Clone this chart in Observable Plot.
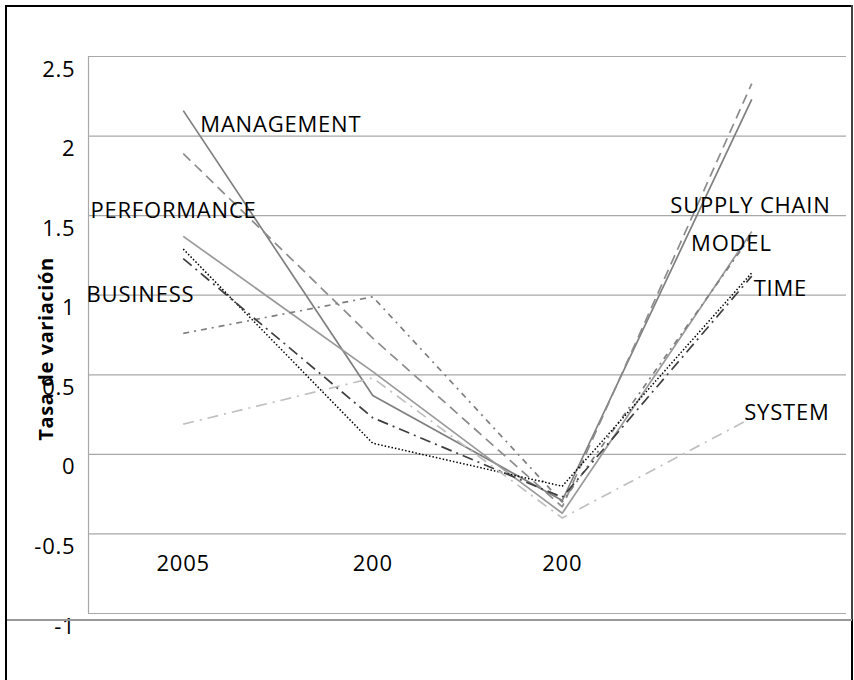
<!DOCTYPE html>
<html>
<head>
<meta charset="utf-8">
<script src="https://cdn.jsdelivr.net/npm/d3@7"></script>
<script src="https://cdn.jsdelivr.net/npm/@observablehq/plot@0.6"></script>
<style>
  html, body { margin: 0; padding: 0; background: #fff; }
  #wrap { position: relative; width: 854px; height: 680px; overflow: hidden; font-family: "Open Sans", sans-serif; }
  #wrap svg text { letter-spacing: 0.8px; }
  .edge { position: absolute; background: #000; }
  #ytitle { position: absolute; left: 45px; top: 349px; transform: translate(-50%, -50%) rotate(-90deg);
            font: bold 20px "Open Sans", sans-serif; letter-spacing: 0.6px; white-space: nowrap; color: #000; }
</style>
</head>
<body>
<div id="wrap"></div>
<script>
// ---- data ----
const years = [2005, 2006, 2007, 2008];
const xTickLabels = ["2005", "200", "200", ""];
const yTicks = [-1, -0.5, 0, 0.5, 1, 1.5, 2, 2.5];
const yTickLabels = ["-1", "-0.5", "0", "0.5", "1", "1.5", "2", "2.5"];

const seriesNames = ["MANAGEMENT", "PERFORMANCE", "SUPPLY CHAIN", "MODEL", "TIME", "BUSINESS", "SYSTEM"];
const management  = [2.16, 0.37, -0.29, 2.23];
const performance = [1.89, 0.73, -0.33, 2.33];
const supplyChain = [1.37, 0.52, -0.37, 1.40];
const model       = [0.76, 0.99, -0.30, 1.38];
const time        = [1.29, 0.07, -0.20, 1.14];
const business    = [1.23, 0.23, -0.27, 1.12];
const system      = [0.19, 0.48, -0.40, 0.23];
const seriesValues = [management, performance, supplyChain, model, time, business, system];

// styles per series
const seriesStroke = ["#7f7f7f", "#8c8c8c", "#999999", "#7f7f7f", "#000000", "#3f3f3f", "#c0c0c0"];
const seriesDash   = [null, "10,6", null, "6,5,2,5", "1.5,2", "11,5,2,5", "11,6,2,6"];
const seriesWidth  = [1.7, 1.7, 1.7, 1.7, 1.5, 1.7, 1.7];

// data labels (name, anchor year, anchor value)
const labelText = ["MANAGEMENT", "PERFORMANCE", "BUSINESS", "SUPPLY CHAIN", "MODEL", "TIME", "SYSTEM"];
const labelYear = [2005.09, 2004.51, 2004.49, 2007.57, 2007.68, 2008.01, 2007.96];
const labelValue = [2.07, 1.53, 1.0, 1.56, 1.32, 1.04, 0.26];

const xDomain = [2004.5, 2008.5];
const yDomain = [-1, 2.5];

// ---- build ----
const table = [];
seriesNames.forEach((s, i) => years.forEach((y, j) => table.push({series: s, year: y, value: seriesValues[i][j], idx: i})));
const labels = labelText.map((t, i) => ({text: t, year: labelYear[i], value: labelValue[i]}));

const lineMarks = seriesNames.map((s, i) =>
  Plot.line(table.filter(d => d.idx === i), {
    x: "year", y: "value", stroke: seriesStroke[i], strokeWidth: seriesWidth[i],
    strokeDasharray: seriesDash[i] || undefined, strokeLinejoin: "miter", strokeLinecap: "butt"
  })
);

const chart = Plot.plot({
  width: 854, height: 680,
  marginLeft: 88, marginTop: 56, marginRight: 8, marginBottom: 67,
  style: {fontFamily: "'Open Sans', sans-serif", background: "transparent", overflow: "visible"},
  x: {domain: xDomain, axis: null},
  y: {domain: yDomain, axis: null},
  marks: [
    Plot.gridY(yTicks, {stroke: "#a8a8a8", strokeOpacity: 1, strokeWidth: 1.2}),
    Plot.ruleX([xDomain[0]], {stroke: "#a8a8a8", strokeWidth: 1.2}),
    Plot.axisY(yTicks, {tickSize: 0, tickPadding: 13, dy: 13, fontSize: 22, fill: "#000",
      tickFormat: d => yTickLabels[yTicks.indexOf(d)], label: null}),
    Plot.axisX(years, {tickSize: 0, tickPadding: 0, dy: -58, fontSize: 22, fill: "#000",
      tickFormat: d => xTickLabels[years.indexOf(d)], label: null}),
    ...lineMarks,
    Plot.text(labels, {x: "year", y: "value", text: "text", textAnchor: "start", fontSize: 22, fill: "#000"})
  ]
});

const wrap = document.getElementById("wrap");
wrap.appendChild(chart);

// chart frame (decoration)
function edge(l, t, w, h, c) {
  const e = document.createElement("div");
  e.className = "edge";
  Object.assign(e.style, {left: l + "px", top: t + "px", width: w + "px", height: h + "px", background: c || "#000"});
  wrap.appendChild(e);
}
edge(5, 5, 2, 680);
edge(5, 5, 848, 2);
edge(851, 5, 1.5, 615, "#444");
edge(851, 619, 2, 70);
edge(7, 619, 845, 1.5, "#999");

const title = document.createElement("div");
title.id = "ytitle";
title.textContent = "Tasa de variación";
wrap.appendChild(title);
</script>
</body>
</html>
